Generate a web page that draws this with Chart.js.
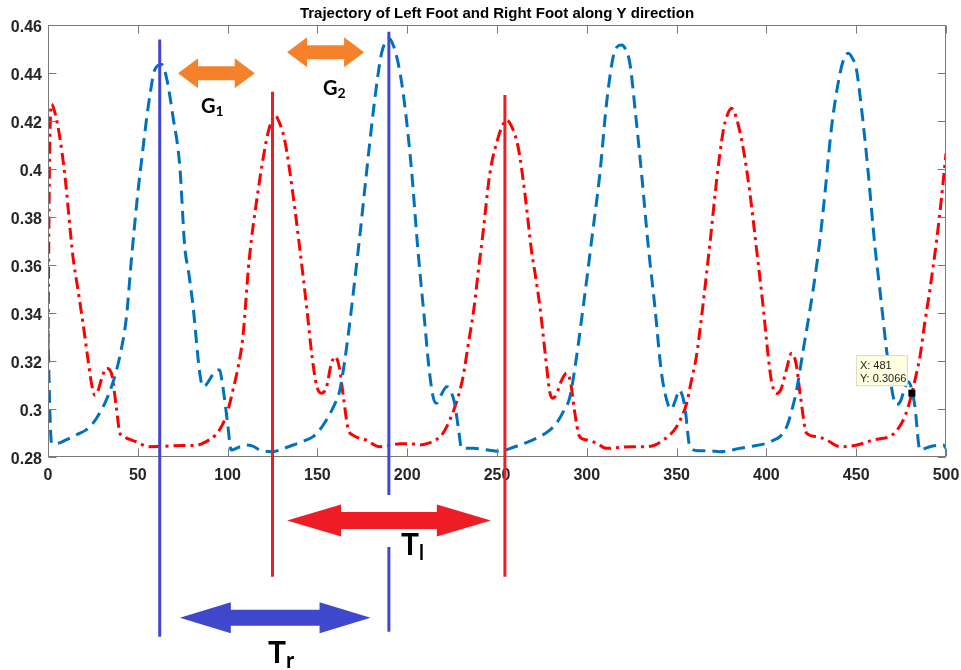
<!DOCTYPE html>
<html>
<head>
<meta charset="utf-8">
<script src="https://cdn.jsdelivr.net/npm/chart.js@4.4.1/dist/chart.umd.min.js"></script>
<style>
  html, body { margin: 0; padding: 0; background: #fff; }
  #wrap { width: 961px; height: 670px; }
</style>
</head>
<body>
<div id="wrap"><canvas id="footChart" width="961" height="670"></canvas></div>
<script>
// left foot (red, dash-dot) and right foot (blue, dashed) Y trajectories
const leftFootX = [0, 0.8, 2, 4, 6.5, 9.3, 13.9, 16.7, 19.5, 22.3, 24.2, 26, 28, 30, 32.5, 35.3, 38, 40, 42, 49, 56, 65, 75, 82, 88, 93, 97, 100, 103, 106, 108.5, 112, 116.8, 121.6, 124, 126.3, 129, 131.8, 136.3, 140, 144, 147, 149.5, 152, 155, 157.5, 159.7, 162, 164.5, 167, 170, 177, 184.7, 190, 196, 202, 207, 212, 216, 220, 223.7, 227.5, 231, 234, 237, 240, 242, 246, 250.6, 253, 255.3, 258, 261.8, 265.5, 269.2, 271.5, 273.9, 277, 279.4, 281, 283, 286, 288.7, 291, 293, 296, 300, 305.4, 311, 318, 325, 333, 338, 342.5, 346, 350, 353, 355.6, 358, 361, 364, 366.7, 369, 372.3, 376, 378, 380.6, 383, 387, 390.8, 394.6, 398.2, 401, 403, 405.7, 408, 411, 414, 416.5, 419, 422.4, 428, 433.5, 441, 447, 453, 459.5, 465, 468.8, 472.5, 476.2, 479, 481, 483, 485.5, 488, 491, 494.8, 497.5, 500];
const leftFootY = [0.323, 0.400, 0.427, 0.423, 0.4135, 0.398, 0.3635, 0.3496, 0.3357, 0.3204, 0.3107, 0.3058, 0.308, 0.313, 0.317, 0.3149, 0.301, 0.290, 0.2885, 0.2864, 0.2843, 0.2845, 0.2848, 0.2848, 0.2864, 0.289, 0.2933, 0.299, 0.308, 0.318, 0.330, 0.362, 0.390, 0.412, 0.419, 0.4225, 0.419, 0.412, 0.390, 0.368, 0.3426, 0.322, 0.310, 0.3066, 0.309, 0.318, 0.3218, 0.318, 0.305, 0.292, 0.289, 0.2871, 0.2843, 0.2848, 0.2855, 0.2855, 0.285, 0.2858, 0.2871, 0.290, 0.2954, 0.303, 0.313, 0.327, 0.341, 0.360, 0.372, 0.398, 0.413, 0.418, 0.4204, 0.418, 0.409, 0.390, 0.366, 0.355, 0.3426, 0.322, 0.307, 0.3045, 0.306, 0.312, 0.3149, 0.311, 0.300, 0.2885, 0.2871, 0.2858, 0.2836, 0.284, 0.2843, 0.2843, 0.285, 0.2871, 0.289, 0.2926, 0.297, 0.3024, 0.311, 0.3218, 0.339, 0.3566, 0.372, 0.3954, 0.416, 0.422, 0.4253, 0.422, 0.409, 0.390, 0.366, 0.3426, 0.322, 0.311, 0.3065, 0.308, 0.316, 0.3232, 0.319, 0.305, 0.2899, 0.2885, 0.2871, 0.2843, 0.2845, 0.2855, 0.2871, 0.2878, 0.2885, 0.291, 0.2954, 0.301, 0.3066, 0.313, 0.3218, 0.335, 0.3496, 0.3704, 0.388, 0.4065];

const rightFootX = [0, 1, 2, 5, 10, 15, 21, 25, 28.8, 32, 36, 40, 43.7, 46.4, 50, 52.5, 54.8, 57, 59.4, 63.3, 66, 69.6, 73.4, 76.1, 78.5, 80.8, 84.5, 86.3, 88, 91, 93.5, 95.6, 97, 98.4, 100, 102, 106, 110.5, 114, 118, 125.3, 131, 136.5, 142, 147.6, 151, 155, 159, 162.5, 165, 168, 171, 173.6, 177.3, 181, 183.5, 185.7, 188, 190, 192.5, 195, 197.5, 199.6, 202.4, 206, 209.8, 212, 214.4, 216.3, 219, 222, 224.5, 226.5, 228.5, 230.3, 236.7, 242, 247.9, 252, 257, 262.7, 268, 273.9, 279, 283, 287, 290.6, 294.3, 298, 300.5, 302.7, 307.3, 311, 314.7, 317, 319.4, 321.5, 324, 327, 330.5, 334.2, 337.9, 341.6, 345.3, 347, 349.5, 351.5, 353, 354.6, 357.4, 362, 368, 374, 380, 385, 392, 400, 404, 407.5, 411.3, 414, 416.8, 420.5, 426, 429.8, 432.6, 436.3, 441, 443.5, 445.6, 448, 450, 453, 456.5, 460.4, 463.2, 466.9, 470.6, 472.5, 474.5, 476.2, 479, 481, 482.7, 485.5, 488, 491, 495, 498.5, 500];
const rightFootY = [0.333, 0.300, 0.2857, 0.2857, 0.2871, 0.289, 0.2912, 0.294, 0.2983, 0.303, 0.3107, 0.322, 0.3385, 0.362, 0.3899, 0.406, 0.4204, 0.432, 0.4413, 0.4435, 0.438, 0.4218, 0.401, 0.368, 0.356, 0.3426, 0.3149, 0.3093, 0.310, 0.3135, 0.316, 0.3163, 0.311, 0.3037, 0.294, 0.2829, 0.284, 0.285, 0.2845, 0.2829, 0.2822, 0.2835, 0.285, 0.2865, 0.2885, 0.291, 0.2954, 0.301, 0.3079, 0.319, 0.3358, 0.355, 0.372, 0.3982, 0.4232, 0.438, 0.4482, 0.453, 0.4544, 0.451, 0.444, 0.433, 0.4204, 0.3996, 0.366, 0.3357, 0.318, 0.3051, 0.3024, 0.306, 0.3093, 0.307, 0.302, 0.292, 0.2836, 0.2836, 0.2832, 0.2826, 0.2823, 0.2835, 0.285, 0.2865, 0.2885, 0.291, 0.294, 0.299, 0.3051, 0.3218, 0.3426, 0.357, 0.3704, 0.3982, 0.4274, 0.4468, 0.451, 0.4517, 0.450, 0.444, 0.424, 0.398, 0.368, 0.3426, 0.3149, 0.3017, 0.300, 0.304, 0.3079, 0.306, 0.301, 0.2843, 0.2826, 0.2826, 0.2822, 0.2828, 0.2836, 0.2845, 0.2857, 0.287, 0.2885, 0.2926, 0.299, 0.3079, 0.3246, 0.3496, 0.3704, 0.3899, 0.4176, 0.4399, 0.4465, 0.4482, 0.446, 0.442, 0.425, 0.400, 0.368, 0.3496, 0.3246, 0.3051, 0.3017, 0.303, 0.3066, 0.3114, 0.308, 0.301, 0.2829, 0.2835, 0.2843, 0.2848, 0.285, 0.2836];

const xTicks = [0, 50, 100, 150, 200, 250, 300, 350, 400, 450, 500];
const yTicks = [0.28, 0.30, 0.32, 0.34, 0.36, 0.38, 0.40, 0.42, 0.44, 0.46];

// data tip shown on the left foot curve
const tipX = 481;
const tipY = 0.3066;

const tickFont = { family: '"Liberation Sans", Arial, sans-serif', size: 16, weight: 'bold' };
const labelFamily = 'Lato, "Open Sans", sans-serif';

// stride markers and arrows, in axis units (y extends below the axes)
const strideLines = [
  { x: 62.2, spans: [[0.454, 0.2051]], color: '#4346D0' },
  { x: 125, spans: [[0.4322, 0.2301]], color: '#EE1C25' },
  { x: 189.8, spans: [[0.4572, 0.2642], [0.2425, 0.2072]], color: '#4346D0' },
  { x: 254.4, spans: [[0.4308, 0.2301]], color: '#EE1C25' }
];
const arrows = [
  { x1: 72.4, x2: 115.1, y: 0.4399, head: 20, headH: 15, shaftH: 7, color: '#F5822A' },
  { x1: 133.1, x2: 176.0, y: 0.4486, head: 20, headH: 15, shaftH: 7, color: '#F5822A' },
  { x1: 133.1, x2: 246.6, y: 0.2535, head: 54, headH: 16, shaftH: 8.5, color: '#EE1C25' },
  { x1: 73.4, x2: 179.6, y: 0.2130, head: 51, headH: 15.5, shaftH: 8, color: '#3F48CC' }
];
const arrowLabels = [
  { main: 'G', sub: '1', left: 201, base: 113, size: 20, subSize: 14, subDrop: 3 },
  { main: 'G', sub: '2', left: 323, base: 95, size: 20, subSize: 14, subDrop: 3 },
  { main: 'T', sub: 'l', left: 401, base: 555, size: 30, subSize: 20, subDrop: 5 },
  { main: 'T', sub: 'r', left: 268, base: 663, size: 30, subSize: 22, subDrop: 5 }
];

function blockArrow(ctx, x1, x2, cy, head, headH, shaftH, color) {
  ctx.beginPath();
  ctx.moveTo(x1, cy);
  ctx.lineTo(x1 + head, cy - headH);
  ctx.lineTo(x1 + head, cy - shaftH);
  ctx.lineTo(x2 - head, cy - shaftH);
  ctx.lineTo(x2 - head, cy - headH);
  ctx.lineTo(x2, cy);
  ctx.lineTo(x2 - head, cy + headH);
  ctx.lineTo(x2 - head, cy + shaftH);
  ctx.lineTo(x1 + head, cy + shaftH);
  ctx.lineTo(x1 + head, cy + headH);
  ctx.closePath();
  ctx.fillStyle = color;
  ctx.fill();
}

const decorations = {
  id: 'decorations',
  afterDraw(chart) {
    const ctx = chart.ctx;
    const a = chart.chartArea;
    const xs = chart.scales.x;
    const ys = chart.scales.y;
    ctx.save();

    // axes box with inward ticks
    ctx.strokeStyle = '#7a7a7a';
    ctx.lineWidth = 1;
    const L = Math.round(a.left) + 0.5, R = Math.round(a.right) - 0.5;
    const T = Math.round(a.top) + 0.5, B = Math.round(a.bottom) - 0.5;
    ctx.strokeRect(L, T, R - L, B - T);
    ctx.beginPath();
    xTicks.forEach(v => {
      const px = Math.round(xs.getPixelForValue(v)) + 0.5;
      ctx.moveTo(px, B); ctx.lineTo(px, B - 8);
      ctx.moveTo(px, T); ctx.lineTo(px, T + 8);
    });
    yTicks.forEach(v => {
      const py = Math.round(ys.getPixelForValue(v)) + 0.5;
      ctx.moveTo(L, py); ctx.lineTo(L + 8, py);
      ctx.moveTo(R, py); ctx.lineTo(R - 8, py);
    });
    ctx.stroke();

    // title
    ctx.fillStyle = '#000';
    ctx.font = 'bold 15px "Liberation Sans", Arial, sans-serif';
    ctx.textAlign = 'center';
    ctx.textBaseline = 'alphabetic';
    ctx.fillText('Trajectory of Left Foot and Right Foot along Y direction', (a.left + a.right) / 2, 18);

    // data tip
    const mx = xs.getPixelForValue(tipX);
    const my = ys.getPixelForValue(tipY);
    ctx.fillStyle = '#FFFFE1';
    ctx.strokeStyle = '#DADAC0';
    ctx.fillRect(mx - 55.5, my - 37.5, 51, 30);
    ctx.strokeRect(mx - 55.5, my - 37.5, 51, 30);
    ctx.fillStyle = '#222';
    ctx.font = '11px "Liberation Sans", Arial, sans-serif';
    ctx.textAlign = 'left';
    ctx.fillText('X: 481', mx - 52, my - 24);
    ctx.fillText('Y: 0.3066', mx - 52, my - 11);
    ctx.fillStyle = '#000';
    ctx.fillRect(mx - 3.5, my - 3.5, 7, 7);

    // stride lines
    ctx.lineWidth = 3;
    strideLines.forEach(s => {
      const px = xs.getPixelForValue(s.x);
      ctx.strokeStyle = s.color;
      s.spans.forEach(([y1, y2]) => {
        ctx.beginPath();
        ctx.moveTo(px, ys.getPixelForValue(y1));
        ctx.lineTo(px, ys.getPixelForValue(y2));
        ctx.stroke();
      });
    });

    // double arrows
    arrows.forEach(ar => {
      blockArrow(ctx, xs.getPixelForValue(ar.x1), xs.getPixelForValue(ar.x2),
        ys.getPixelForValue(ar.y), ar.head, ar.headH, ar.shaftH, ar.color);
    });

    // period / gap labels with subscripts
    ctx.fillStyle = '#000';
    ctx.textAlign = 'left';
    arrowLabels.forEach(lb => {
      ctx.font = 'bold ' + lb.size + 'px ' + labelFamily;
      ctx.fillText(lb.main, lb.left, lb.base);
      const w = ctx.measureText(lb.main).width;
      ctx.font = 'bold ' + lb.subSize + 'px ' + labelFamily;
      ctx.fillText(lb.sub, lb.left + w, lb.base + lb.subDrop);
    });

    ctx.restore();
  }
};

const leftData = leftFootX.map((x, i) => ({ x: x, y: leftFootY[i] }));
const rightData = rightFootX.map((x, i) => ({ x: x, y: rightFootY[i] }));

const config = {
  type: 'line',
  data: {
    datasets: [
      {
        label: 'Right Foot',
        data: rightData,
        borderColor: '#0072BD',
        borderWidth: 3,
        borderDash: [13, 7],
        pointRadius: 0,
        fill: false,
        cubicInterpolationMode: 'monotone'
      },
      {
        label: 'Left Foot',
        data: leftData,
        borderColor: '#FF0000',
        borderWidth: 3,
        borderDash: [12, 5, 3, 5],
        pointRadius: 0,
        fill: false,
        cubicInterpolationMode: 'monotone'
      }
    ]
  },
  options: {
    responsive: false,
    animation: false,
    devicePixelRatio: 1,
    layout: { padding: { top: 25, right: 15, left: 0, bottom: 0 } },
    plugins: {
      legend: { display: false },
      tooltip: { enabled: false },
      title: { display: false }
    },
    scales: {
      x: {
        type: 'linear',
        min: 0,
        max: 500,
        grid: { display: false, drawTicks: false },
        border: { display: false },
        afterBuildTicks: (scale) => { scale.ticks = xTicks.map(v => ({ value: v })); },
        afterFit: (scale) => {
          scale.height = 213;
          scale.paddingLeft = 0;
          scale.paddingRight = 0;
        },
        ticks: {
          font: tickFont,
          color: '#262626',
          padding: 9,
          maxRotation: 0,
          autoSkip: false,
          callback: (v) => String(v)
        }
      },
      y: {
        type: 'linear',
        min: 0.28,
        max: 0.46,
        grid: { display: false, drawTicks: false },
        border: { display: false },
        afterBuildTicks: (scale) => { scale.ticks = yTicks.map(v => ({ value: v })); },
        afterFit: (scale) => {
          scale.width = 48;
          scale.paddingTop = 0;
          scale.paddingBottom = 0;
        },
        ticks: {
          font: tickFont,
          color: '#262626',
          padding: 6,
          labelOffset: 3,
          autoSkip: false,
          callback: (v) => String(+Number(v).toFixed(2))
        }
      }
    }
  },
  plugins: [decorations]
};

const footChart = new Chart(document.getElementById('footChart'), config);
</script>
</body>
</html>
